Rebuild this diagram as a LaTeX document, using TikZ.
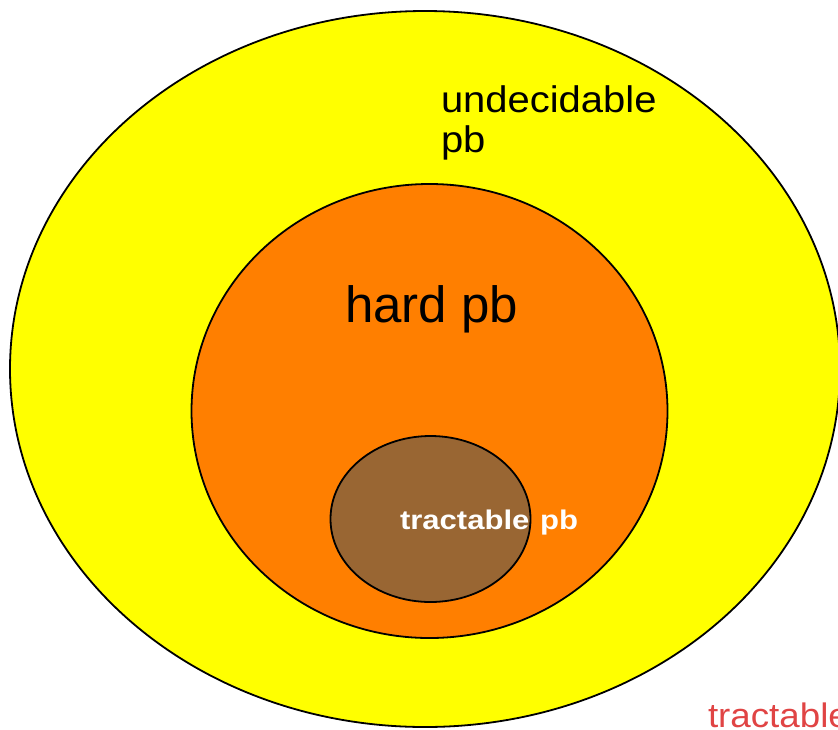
\documentclass[tikz,border=0pt]{standalone}
\usepackage{fontspec}
\setmainfont{Liberation Sans}
\newfontfamily\lightwide[FakeStretch=1.08]{Liberation Sans}
\newfontfamily\boldwide[FakeStretch=1.15]{Liberation Sans Bold}
\definecolor{setyellow}{RGB}{255,255,0}
\definecolor{setorange}{RGB}{255,127,0}
\definecolor{setbrown}{RGB}{153,102,51}
\definecolor{labelred}{RGB}{224,68,68}
\tikzset{
  region/.style={draw=black, line width=1.8pt},
  label/.style={anchor=base west, inner sep=0pt, outer sep=0pt},
}
\begin{document}
\begin{tikzpicture}[x=1pt, y=-1pt]
  \useasboundingbox (0,0) rectangle (838,729);
  \clip (0,0) rectangle (838,729);
  % nested problem classes
  \draw[region, fill=setyellow] (425,369) ellipse [x radius=415, y radius=358];
  \draw[region, fill=setorange] (429.5,411) ellipse [x radius=238, y radius=227];
  \draw[region, fill=setbrown] (430.5,519) ellipse [x radius=100, y radius=83];
  % labels
  \node[label, font=\lightwide\fontsize{37}{40}\selectfont] (undec) at (441,112) {undecidable};
  \node[label, font=\lightwide\fontsize{37}{40}\selectfont] (undecpb) at (441,152) {pb};
  \node[label, font=\fontsize{51}{56}\selectfont] (hard) at (345,322) {hard pb};
  \node[label, font=\boldwide\fontsize{27}{30}\selectfont, text=white] (tract) at (400,529) {tractable\hspace{2pt} pb};
  \node[label, font=\lightwide\fontsize{34}{38}\selectfont, text=labelred] (tractred) at (708,727) {tractable};
\end{tikzpicture}
\end{document}
